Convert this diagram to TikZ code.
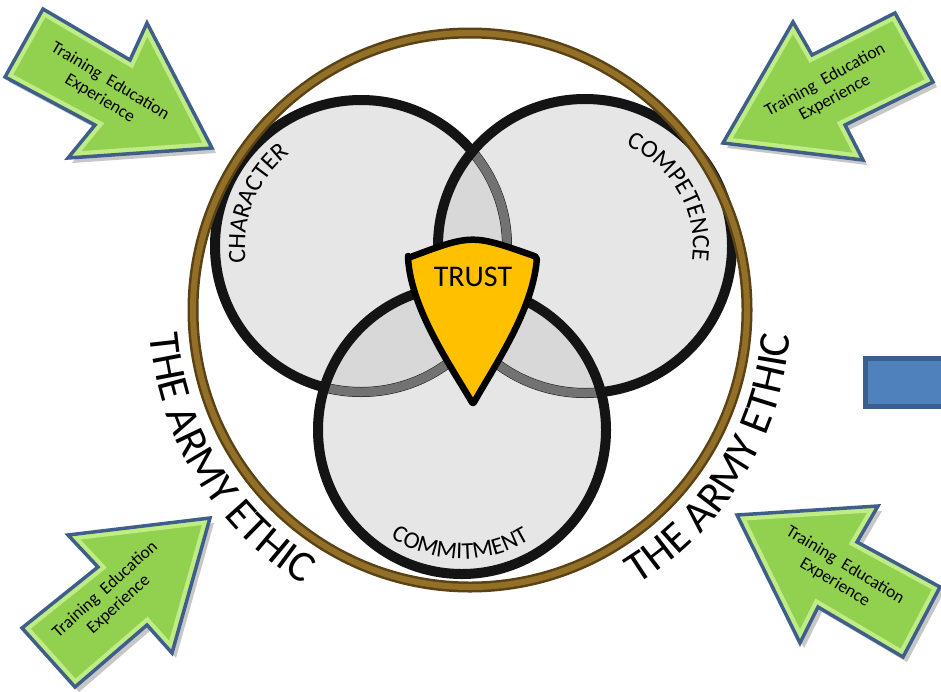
\documentclass[tikz,border=0pt]{standalone}
\usepackage{fontspec}
\setmainfont{Carlito}
\usetikzlibrary{decorations.text,calc}
\definecolor{ringfill}{HTML}{E6E6E6}
\definecolor{ovfill}{HTML}{D8D8D8}
\definecolor{underring}{HTML}{727272}
\definecolor{brownA}{HTML}{5A4214}
\definecolor{brownB}{HTML}{937028}
\definecolor{trustY}{HTML}{FFC000}
\definecolor{arrowG}{HTML}{92D050}
\definecolor{arrowL}{HTML}{C0EC85}
\definecolor{arrowB}{HTML}{3F5F8A}
\definecolor{boxB}{HTML}{4F81BD}
\definecolor{boxE}{HTML}{3A5F8E}
\newcommand{\GreenArrow}[1]{%
  \fill[black,opacity=.22,shift={(4,5)}] #1 -- cycle;
  \begin{scope}
    \clip #1 -- cycle;
    \fill[arrowG] #1 -- cycle;
    \draw[arrowL,line width=12pt] #1 -- cycle;
  \end{scope}
  \draw[arrowB,line width=3.5pt,line join=miter] #1 -- cycle;}
\tikzset{
  blackring/.style={line width=10pt,draw=black!92},
  underringst/.style={line width=9pt,draw=underring},
  arrowtext/.style={font=\fontsize{17.5pt}{20pt}\selectfont,align=center,inner sep=0pt},
  curvetext/.style={decorate,decoration={text along path,text align=center}}
}
\begin{document}
\begin{tikzpicture}[x=1pt,y=-1pt]
\useasboundingbox (0,0) rectangle (941,691);
\fill[white] (0,0) rectangle (941,691);
\coordinate (cha) at (361,246);
\coordinate (com) at (585,246);
\coordinate (cmt) at (462,430);
\coordinate (eth) at (470,310);
% arrows
\GreenArrow{(43,9) -- (130,60) -- (147,23) -- (212,148) -- (68,158) -- (95,125) -- (5,77)}
\GreenArrow{(895,13) -- (933,82) -- (845,125) -- (863,160) -- (723,143) -- (793,22) -- (812,55)}
\GreenArrow{(210,518) -- (68,535) -- (98,567) -- (22,628) -- (75,687) -- (147,625) -- (172,653)}
\GreenArrow{(737,515) -- (878,506) -- (857,542) -- (940,587) -- (903,657) -- (818,607) -- (800,643)}
\node[arrowtext,rotate=-31] (t1) at (105,90) {Training~ Education\\Experience};
\node[arrowtext,rotate=29] (t2) at (830,89) {Training~ Education\\Experience};
\node[arrowtext,rotate=42] (t3) at (112,597) {Training~ Education\\Experience};
\node[arrowtext,rotate=-31] (t4) at (840,574) {Training~ Education\\Experience};
% blue box
\draw[draw=boxE,fill=boxB,line width=5pt] (865.5,358.5) rectangle (950,406.5);
% circle fills
\fill[ringfill] (cha) circle[radius=146pt];
\fill[ringfill] (com) circle[radius=147pt];
\fill[ringfill] (cmt) circle[radius=144pt];
\begin{scope}
  \clip (cha) circle[radius=146pt];
  \fill[ovfill] (com) circle[radius=147pt];
  \fill[ovfill] (cmt) circle[radius=144pt];
\end{scope}
\begin{scope}
  \clip (com) circle[radius=147pt];
  \fill[ovfill] (cmt) circle[radius=144pt];
\end{scope}
% rings
\draw[blackring] (cha) circle[radius=146pt];
\begin{scope}
  \clip (com) circle[radius=147pt];
  \draw[underringst] (cha) circle[radius=146pt];
\end{scope}
\begin{scope}
  \clip (cmt) circle[radius=144pt];
  \draw[underringst] (cha) circle[radius=146pt];
\end{scope}
\draw[blackring] (com) circle[radius=147pt];
\begin{scope}
  \clip (cmt) circle[radius=144pt];
  \draw[underringst] (com) circle[radius=147pt];
\end{scope}
\draw[blackring] (cmt) circle[radius=144pt];
% brown ring
\draw[brownA,line width=11pt] (eth) circle[radius=277pt];
\draw[brownB,line width=6pt] (eth) circle[radius=277pt];
% shield
\draw[line width=6.5pt,fill=trustY,line join=round,rounded corners=2pt]
  (408,258) .. controls (472,234) .. (537,257)
  .. controls (533,310) and (495,365) .. (473,404)
  .. controls (450,365) and (412,310) .. (408,258) -- cycle;
\node[font=\fontsize{30pt}{30pt}\selectfont] (trust) at (473,277) {TRUST};
% curved labels
\path[curvetext,decoration={text={|\fontsize{25pt}{25pt}\selectfont|CHARACTER}}]
  ($(cha)+(203:116pt)$) arc[start angle=203,end angle=113,radius=116pt];
\path[curvetext,decoration={text={|\fontsize{25pt}{25pt}\selectfont|COMPETENCE}}]
  ($(com)+(75:108pt)$) arc[start angle=75,end angle=-15,radius=108pt];
\path[curvetext,decoration={text={|\fontsize{24pt}{24pt}\selectfont|COMMITMENT}}]
  ($(cmt)+(224:129pt)$) arc[start angle=224,end angle=314,radius=129pt];
\path[curvetext,decoration={text={|\fontsize{44pt}{44pt}\selectfont|THE ARMY ETHIC}}]
  ($(eth)+(165:321pt)$) arc[start angle=165,end angle=258,radius=321pt];
\path[curvetext,decoration={text={|\fontsize{44pt}{44pt}\selectfont|THE ARMY ETHIC}}]
  ($(eth)+(282:321pt)$) arc[start angle=282,end angle=375,radius=321pt];
\end{tikzpicture}
\end{document}
